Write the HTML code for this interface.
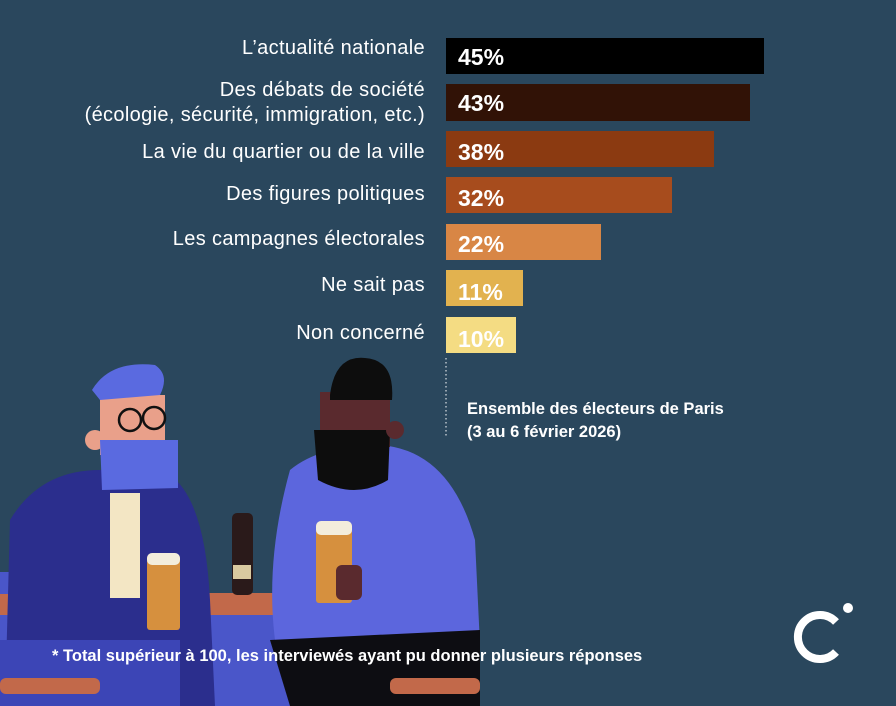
<!DOCTYPE html>
<html><head><meta charset="utf-8"><style>
body{margin:0;width:896px;height:706px;overflow:hidden;background:#2a475d;font-family:"Liberation Sans",sans-serif;position:relative}
.l{position:absolute;right:471px;color:#fff;font-size:20px;letter-spacing:0.35px;text-align:right;line-height:25px;white-space:nowrap}
.b{position:absolute;left:446px;height:36px}
.v{position:absolute;left:458px;color:#fff;font-weight:bold;font-size:23px;line-height:38px}
</style></head><body>
<svg width="896" height="706" style="position:absolute;left:0;top:0">
<rect x="0" y="615" width="300" height="91" fill="#4a56c9"/>
<rect x="0" y="593" width="290" height="22" fill="#c2694a"/>
<rect x="0" y="572" width="12" height="22" fill="#4a56c9"/>
<rect x="232" y="513" width="21" height="82" rx="5" fill="#2a1a1a"/>
<rect x="233" y="565" width="18" height="14" fill="#d8c9a0"/>
<path d="M10 520 Q40 470 100 470 L170 475 Q205 500 210 600 L215 706 L5 706 Z" fill="#2b2e8d"/>
<rect x="110" y="493" width="30" height="105" fill="#f3e6c4"/>
<rect x="0" y="640" width="180" height="66" fill="#3c45b6"/>
<rect x="0" y="678" width="100" height="16" rx="6" fill="#c2694a"/>
<rect x="100" y="395" width="65" height="60" fill="#e9a08a"/>
<circle cx="95" cy="440" r="10" fill="#e9a08a"/>
<path d="M100 440 L178 440 L178 488 L102 490 Z" fill="#5a6ae0"/>
<path d="M92 390 Q110 360 155 365 Q170 375 160 395 L100 400 Z" fill="#5a6ae0"/>
<circle cx="130" cy="420" r="11" fill="none" stroke="#111" stroke-width="2.5"/>
<circle cx="154" cy="418" r="11" fill="none" stroke="#111" stroke-width="2.5"/>
<rect x="147" y="555" width="33" height="75" rx="3" fill="#d6903e"/>
<rect x="147" y="553" width="33" height="12" rx="5" fill="#f3eddc"/>
<path d="M290 470 Q320 445 380 445 Q450 450 475 540 L480 645 L275 640 Q265 560 290 470 Z" fill="#5c66dd"/>
<path d="M270 640 L480 630 L480 706 L290 706 Z" fill="#0d0d12"/>
<rect x="390" y="678" width="90" height="16" rx="6" fill="#c2694a"/>
<rect x="320" y="392" width="70" height="55" fill="#5a2a2e"/>
<path d="M314 430 L390 430 L388 480 Q355 500 318 480 Z" fill="#0d0d0d"/>
<path d="M330 395 Q335 355 365 358 Q395 360 392 400 L330 400 Z" fill="#0d0d0d"/>
<circle cx="395" cy="430" r="9" fill="#5a2a2e"/>
<rect x="316" y="523" width="36" height="80" rx="3" fill="#d6903e"/>
<rect x="316" y="521" width="36" height="14" rx="5" fill="#f3eddc"/>
<rect x="336" y="565" width="26" height="35" rx="6" fill="#5a2a2e"/>
<path d="M836 622 A22 22 0 1 0 836 652" fill="none" stroke="#fff" stroke-width="8"/>
<circle cx="848" cy="608" r="5" fill="#fff"/>
<line x1="446" y1="358" x2="446" y2="437" stroke="#fff" stroke-width="1" stroke-dasharray="1.5 2.5"/>
</svg>
<div class="l" style="top:36px">L’actualité nationale</div>
<div class="l" style="top:78px">Des débats de société<br>(écologie, sécurité, immigration, etc.)</div>
<div class="l" style="top:140px">La vie du quartier ou de la ville</div>
<div class="l" style="top:182px">Des figures politiques</div>
<div class="l" style="top:227px">Les campagnes électorales</div>
<div class="l" style="top:273px">Ne sait pas</div>
<div class="l" style="top:321px">Non concerné</div>
<div class="b" style="top:38px;width:318px;background:#000"></div>
<div class="b" style="top:84px;width:304px;height:37px;background:#311206"></div>
<div class="b" style="top:131px;width:268px;background:#8b3a11"></div>
<div class="b" style="top:177px;width:226px;background:#a74c1d"></div>
<div class="b" style="top:224px;width:155px;background:#d88645"></div>
<div class="b" style="top:270px;width:77px;background:#e2b24f"></div>
<div class="b" style="top:317px;width:70px;background:#f4dc83"></div>
<div class="v" style="top:38px">45%</div>
<div class="v" style="top:84px">43%</div>
<div class="v" style="top:133px">38%</div>
<div class="v" style="top:179px">32%</div>
<div class="v" style="top:225px">22%</div>
<div class="v" style="top:273px">11%</div>
<div class="v" style="top:320px">10%</div>
<div style="position:absolute;left:467px;top:398px;color:#fff;font-weight:bold;font-size:16.5px;line-height:23px">Ensemble des électeurs de Paris<br>(3 au 6 février 2026)</div>
<div style="position:absolute;left:52px;top:647px;color:#fff;font-weight:bold;font-size:16.5px">* Total supérieur à 100, les interviewés ayant pu donner plusieurs réponses</div>
</body></html>
